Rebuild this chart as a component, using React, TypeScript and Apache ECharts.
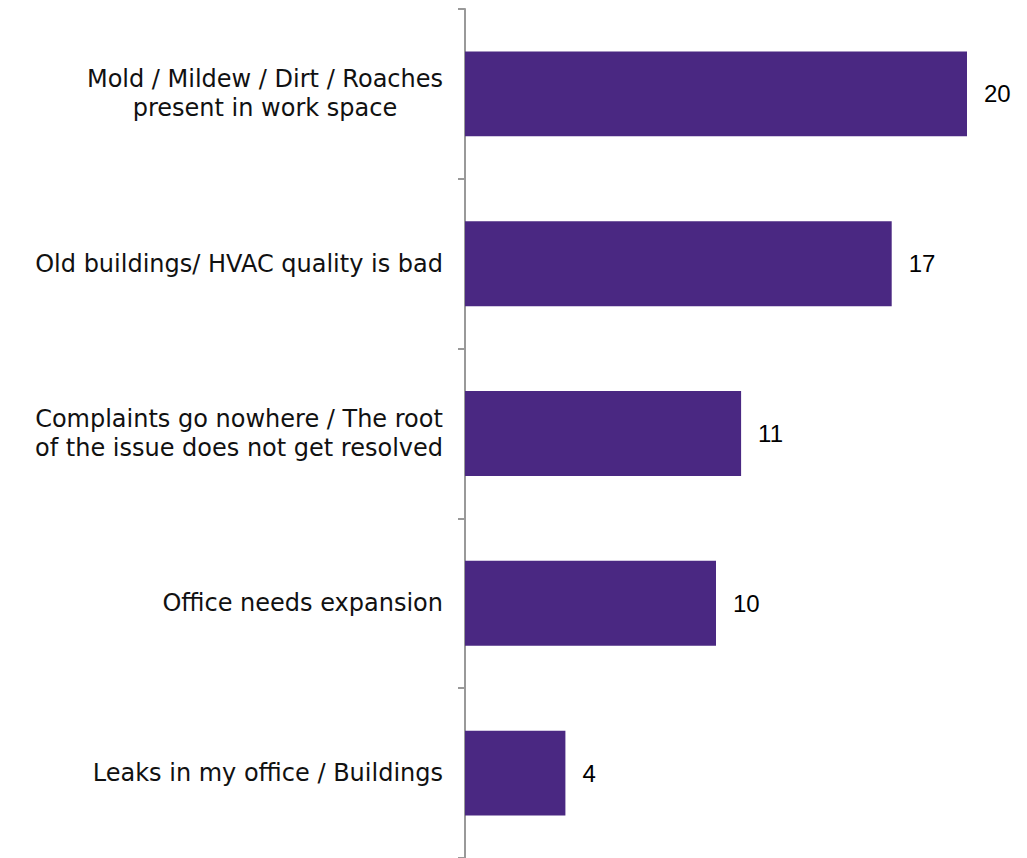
import React, { useEffect, useRef } from "react";
import * as echarts from "echarts";

const categories = [
  "Mold / Mildew / Dirt / Roaches\npresent in work space",
  "Old buildings/ HVAC quality is bad",
  "Complaints go nowhere / The root\nof the issue does not get resolved",
  "Office needs expansion",
  "Leaks in my office / Buildings",
];
const values = [20, 17, 11, 10, 4];

export default function App() {
  const ref = useRef<HTMLDivElement>(null);
  useEffect(() => {
    const chart = echarts.init(ref.current!, null, { renderer: "svg" });
    const labelStyle = {
      fontSize: 24,
      fontFamily: "DejaVu Sans",
      color: "#111111",
      lineHeight: 29,
      align: "center",
    };
    chart.setOption({
      animation: false,
      backgroundColor: "#ffffff",
      grid: { left: 465, top: 9, bottom: 0, width: 25.1 * 22 },
      xAxis: { type: "value", min: 0, max: 22, show: false },
      yAxis: {
        type: "category",
        data: categories,
        inverse: true,
        axisLine: { lineStyle: { color: "#999999", width: 2 } },
        axisTick: { show: true, interval: 0, length: 7, lineStyle: { color: "#999999", width: 2 } },
        axisLabel: {
          margin: 22,
          color: "#111111",
          fontSize: 24,
          lineHeight: 29,
          fontFamily: "DejaVu Sans",
          align: "right",
          formatter: (v: string) => {
            const lines = v.split("\n");
            if (lines.length === 1) return v;
            return lines.map((l) => "{c|" + l + "}").join("\n");
          },
          rich: {
            c: { ...labelStyle },
          },
        },
      },
      series: [
        {
          type: "bar",
          data: values,
          barWidth: "50%",
          itemStyle: { color: "#4a2882" },
          label: {
            show: true,
            position: "right",
            distance: 17,
            color: "#000000",
            fontSize: 24,
            fontFamily: "Liberation Sans",
          },
        },
      ],
    });
    return () => chart.dispose();
  }, []);
  return (
    <div
      ref={ref}
      style={{ position: "fixed", left: 0, top: 0, width: 1027, height: 858 }}
    />
  );
}
